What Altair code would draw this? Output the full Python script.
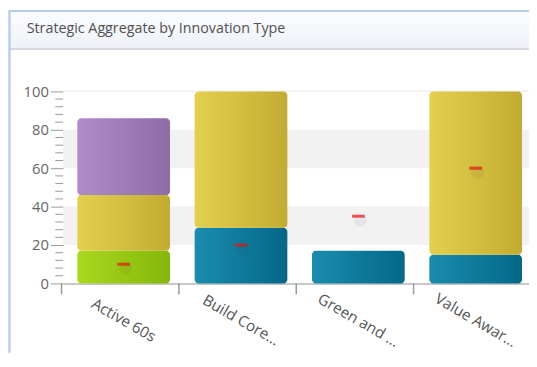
import altair as alt
import pandas as pd

categories = ["Active 60s", "Build Core…", "Green and …", "Value Awar…"]
series_names = ["Green", "Blue", "Gold", "Purple"]
green_vals = [17, 0, 0, 0]
blue_vals = [0, 29, 17, 15]
gold_vals = [29, 71, 0, 85]
purple_vals = [40, 0, 0, 0]
marker_vals = [10, 20, 35, 60]
y_ticks = [0, 20, 40, 60, 80, 100]
minor_ticks = [v for v in range(0, 101, 4) if v % 20 != 0]
band_lo = [20, 60]
band_hi = [40, 80]

gradients = {
    "Green": ["#a9d81e", "#84b70b"],
    "Blue": ["#1a8cae", "#046887"],
    "Gold": ["#e4d04e", "#c1ac31"],
    "Purple": ["#b18bcb", "#8e6ca6"],
}

rows = []
for i, c in enumerate(categories):
    for order, (s, vals) in enumerate(zip(series_names, [green_vals, blue_vals, gold_vals, purple_vals])):
        if vals[i] > 0:
            rows.append({"cat": c, "series": s, "value": vals[i], "order": order})
df = pd.DataFrame(rows)
markers = pd.DataFrame({"cat": categories, "target": marker_vals})
bands = pd.DataFrame({"lo": band_lo, "hi": band_hi})
minors = pd.DataFrame({"v": minor_ticks})
cats_df = pd.DataFrame({"cat": categories})

W, H = 473, 195
PL, PT, PR, PB = 56, 82, 0, 70
FONT = "Open Sans"

xscale = alt.Scale(domain=categories, paddingInner=0.21, paddingOuter=0.09, align=0.67)
yscale = alt.Scale(domain=[0, 100], nice=False)

x_axis = alt.Axis(labelAngle=30, labelAlign="center", labelBaseline="middle",
                  labelPadding=37, ticks=False, domainColor="#b5b5b5",
                  domainWidth=1.5, labelColor="#555", labelFontSize=15.5,
                  labelFont=FONT, title=None)
y_axis = alt.Axis(values=y_ticks, tickSize=13, tickColor="#999", domain=False, grid=False,
                  labelColor="#666", labelFontSize=15, labelFont=FONT, labelPadding=2,
                  labelOverlap=False, labelFlush=False, title=None)


def X(**kw):
    return alt.X("cat:N", scale=xscale, sort=categories, axis=x_axis, **kw)


def Y(field):
    return alt.Y(field, scale=yscale, axis=y_axis)


# decorations: panel header and borders
header = alt.Chart(cats_df).mark_rect(
    fill={"x1": 0, "y1": 0, "x2": 0, "y2": 1, "gradient": "linear",
          "stops": [{"offset": 0, "color": "#fbfcfe"}, {"offset": 1, "color": "#eef2f8"}]}
).encode(x=alt.value(-PL + 1), x2=alt.value(W + 2), y=alt.value(-PT + 1), y2=alt.value(-44))
header_shadow = alt.Chart(cats_df).mark_rule(color="#d6d9de", strokeWidth=2).encode(
    x=alt.value(-PL + 1), x2=alt.value(W + 2), y=alt.value(-43))
left_border = alt.Chart(cats_df).mark_rule(color="#b3cdea", strokeWidth=1.5).encode(
    x=alt.value(-PL + 1.5), y=alt.value(-PT), y2=alt.value(H + PB))
top_border = alt.Chart(cats_df).mark_rule(color="#b3cdea", strokeWidth=1.5).encode(
    x=alt.value(-PL + 1.5), x2=alt.value(W + 2), y=alt.value(-PT + 0.5))

stripes = alt.Chart(bands).mark_rect(color="#f2f2f2").encode(
    x=alt.value(0), x2=alt.value(W), y=Y("lo:Q"), y2="hi:Q")
top_line = alt.Chart(cats_df).mark_rule(color="#f0f0f0").encode(
    x=alt.value(0), x2=alt.value(W), y=alt.value(0))
minor = alt.Chart(minors).mark_rule(color="#999").encode(
    x=alt.value(-8), x2=alt.value(0), y=Y("v:Q"))
xticks = alt.Chart(cats_df).mark_rule(color="#999", strokeWidth=1.5, xOffset=-16).encode(
    x=X(bandPosition=0), y=alt.value(H), y2=alt.value(H + 11))

base = alt.Chart(df).transform_stack(
    stack="value", groupby=["cat"], as_=["y0", "y1"],
    sort=[alt.SortField("order", order="ascending")])

bar_layers = []
for s in series_names:
    g = gradients[s]
    bar_layers.append(
        base.transform_filter(alt.datum.series == s).mark_bar(
            cornerRadius=4,
            fill={"x1": 0, "y1": 0, "x2": 1, "y2": 0, "gradient": "linear",
                  "stops": [{"offset": 0, "color": g[0]}, {"offset": 1, "color": g[1]}]}
        ).encode(x=X(), y=Y("y0:Q"), y2="y1:Q")
    )

shadow = alt.Chart(markers).mark_circle(color="#222", opacity=0.06, size=170, yOffset=4, xOffset=2).encode(
    x=X(bandPosition=0.5), y=Y("target:Q"))
marker = alt.Chart(markers).mark_tick(color="#f01010", thickness=3, size=13, orient="horizontal").encode(
    x=X(), y=Y("target:Q"))

chart = alt.layer(
    header, header_shadow, left_border, top_border,
    stripes, top_line, minor, xticks, *bar_layers, shadow, marker
).properties(
    width=W, height=H,
    padding={"left": PL, "top": PT, "right": PR, "bottom": PB},
    autosize=alt.AutoSizeParams(type="none"),
    title=alt.TitleParams("Strategic Aggregate by Innovation Type", anchor="start", dx=19,
                          offset=-27, fontSize=14.5, font=FONT, fontWeight="normal", color="#505050"),
).configure_view(stroke=None).configure_axis(labelOverlap=False)

chart.save("out.html", embed_options={"renderer": "svg", "actions": False})
